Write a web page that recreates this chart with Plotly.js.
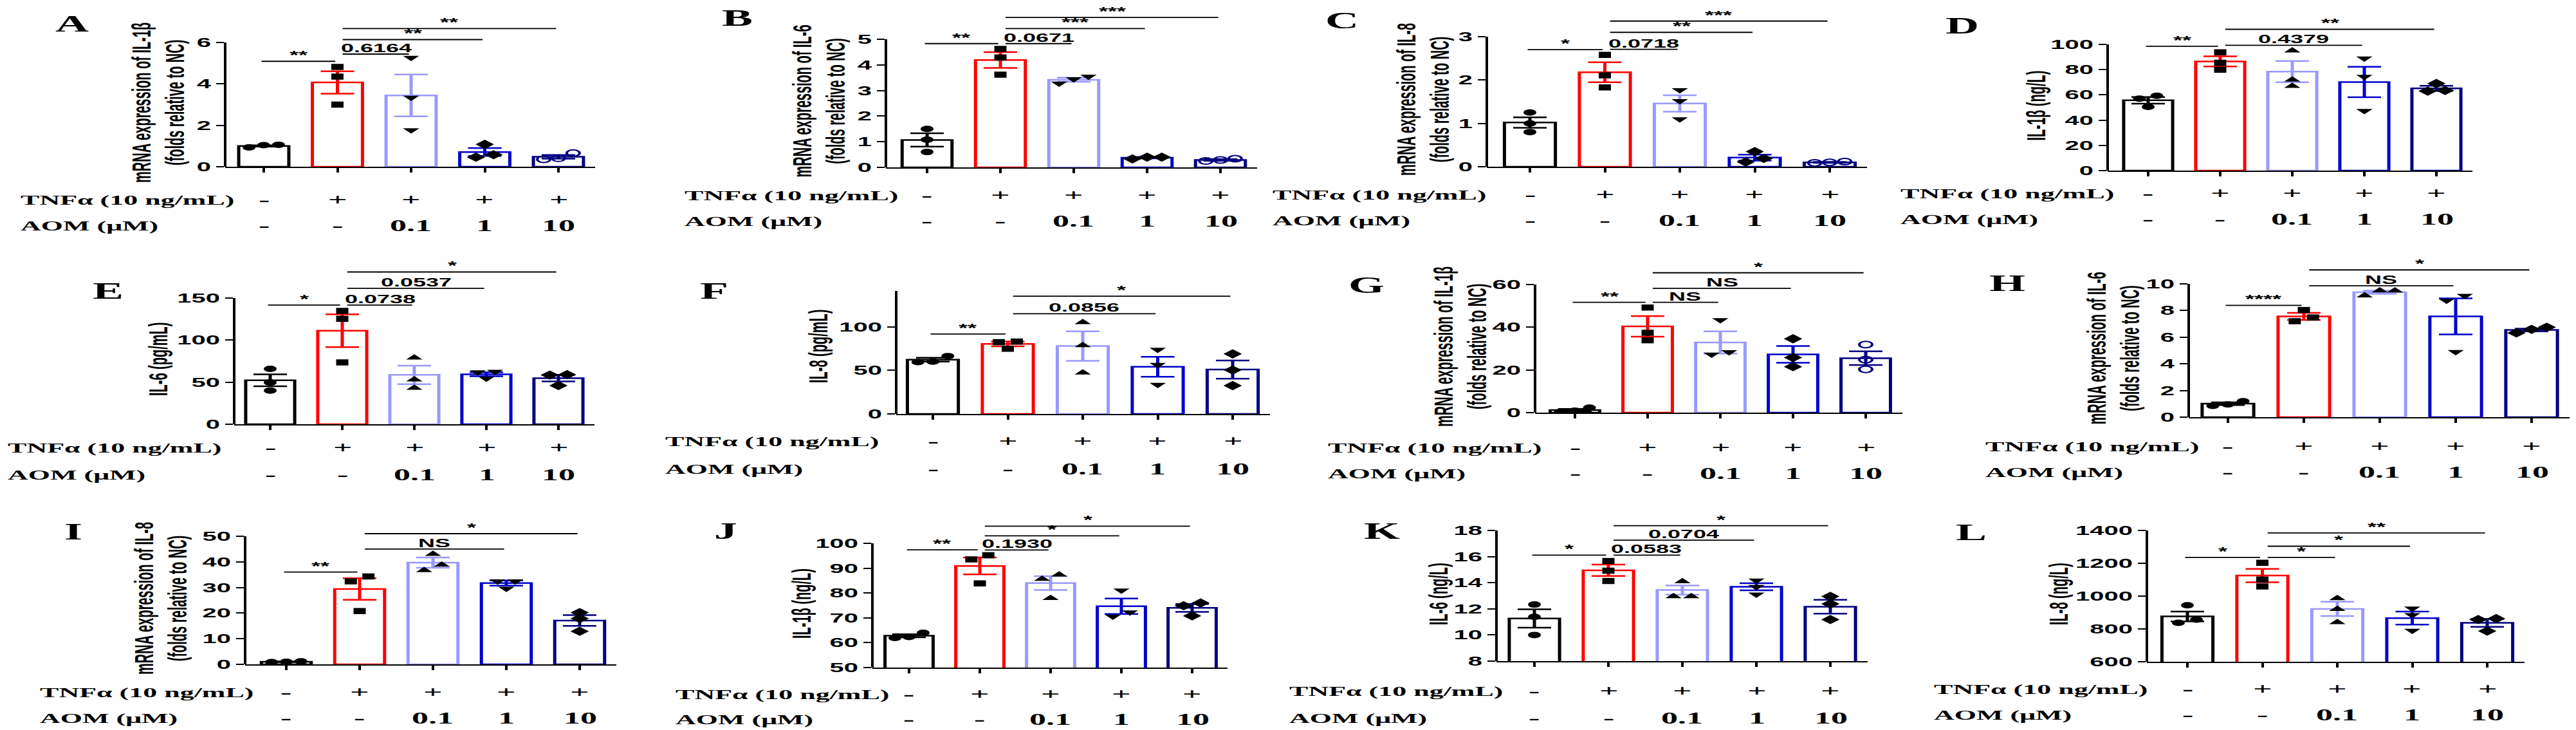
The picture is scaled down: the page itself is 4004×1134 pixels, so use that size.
<!DOCTYPE html>
<html>
<head>
<meta charset="utf-8">
<script src="https://cdn.plot.ly/plotly-3.0.1.min.js"></script>
<style>
html,body{margin:0;padding:0;background:#fff;overflow:hidden;width:4004px;height:1134px;}
#wrap{width:4004px;height:1134px;overflow:hidden;position:relative;}
#chart{width:2002px;height:1134px;transform:scaleX(2);transform-origin:0 0;position:absolute;left:0;top:0;}
</style>
</head>
<body>
<div id="wrap"><div id="chart"></div></div>
<script>
// ---------------- DATA ----------------
const groups = ["NC", "TNFα", "TNFα+AOM 0.1", "TNFα+AOM 1", "TNFα+AOM 10"];
const tnfLabels = ["-", "+", "+", "+", "+"];
const aomLabels = ["-", "-", "0.1", "1", "10"];

const A_mean = [1.00, 4.07, 3.44, 0.71, 0.48];
const A_sem  = [0.03, 0.54, 1.01, 0.19, 0.09];
const A_pts  = [[1.06,0.93,1.04],[4.82,4.35,3.00],[5.27,3.34,1.77],[1.08,0.58,0.46],[0.66,0.36,0.41]];
const A_sig  = [[0,1,5.09,"**"],[1,2,5.44,"0.6164"],[1,3,6.14,"**"],[1,4,6.67,"**"]];

const B_mean = [1.07, 4.19, 3.42, 0.38, 0.29];
const B_sem  = [0.26, 0.31, 0.08, 0.03, 0.03];
const B_pts  = [[1.50,1.08,0.60],[4.62,4.29,3.62],[3.55,3.28,3.45],[0.40,0.33,0.40],[0.34,0.25,0.29]];
const B_sig  = [[0,1,4.83,"**"],[1,2,4.83,"0.0671"],[1,3,5.42,"***"],[1,4,5.85,"***"]];

const C_mean = [1.02, 2.18, 1.46, 0.21, 0.10];
const C_sem  = [0.12, 0.23, 0.19, 0.07, 0.01];
const C_pts  = [[1.25,1.00,0.80],[2.58,2.11,1.83],[1.77,1.52,1.10],[0.35,0.19,0.11],[0.12,0.09,0.10]];
const C_sig  = [[0,1,2.70,"*"],[1,2,2.71,"0.0718"],[1,3,3.10,"**"],[1,4,3.36,"***"]];

const D_mean = [55.7, 86.5, 78.4, 70.2, 65.2];
const D_sem  = [2.6, 4.0, 8.4, 12.1, 2.0];
const D_pts  = [[59.3,57.0,50.5],[93.7,85.5,80.0],[95.0,72.0,67.0],[89.0,74.5,47.5],[69.0,63.0,63.5]];
const D_sig  = [[0,1,98.5,"**"],[1,3,99.3,"0.4379"],[1,4,112,"**"]];

const E_mean = [52.3, 111.2, 58.7, 59.4, 54.8];
const E_sem  = [7.1, 19.5, 11.0, 2.4, 4.0];
const E_pts  = [[65.8,49.5,40.0],[134.7,125.3,73.5],[79.0,53.0,43.0],[62.5,54.5,62.0],[59.0,58.5,46.0]];
const E_sig  = [[0,1,141.6,"*"],[1,2,141.6,"0.0738"],[1,3,161.5,"0.0537"],[1,4,181,"*"]];

const F_mean = [62.2, 80.4, 77.9, 54.1, 50.9];
const F_sem  = [2.2, 2.8, 16.9, 11.4, 10.4];
const F_pts  = [[66.4,60.0,59.5],[83.1,82.4,74.8],[105.2,78.7,47.2],[73.8,56.6,33.7],[68.9,50.4,32.5]];
const F_sig  = [[0,1,91.7,"**"],[1,3,115,"0.0856"],[1,4,135.2,"*"]];

const G_mean = [1.2, 40.4, 32.9, 27.3, 25.5];
const G_sem  = [0.5, 4.8, 5.2, 3.9, 3.2];
const G_pts  = [[2.3,0.9,0.4],[49.2,37.4,33.9],[43.4,28.4,27.3],[34.6,25.8,21.5],[31.9,24.8,20.3]];
const G_sig  = [[0,1,51.7,"**"],[1,2,51.7,"NS"],[1,3,58.2,"NS"],[1,4,65.5,"*"]];

const H_mean = [1.01, 7.56, 9.37, 7.56, 6.54];
const H_sem  = [0.10, 0.26, 0.12, 1.35, 0.10];
const H_pts  = [[1.20,0.95,0.85],[8.04,7.48,7.20],[9.49,9.12,9.49],[9.12,8.76,4.90],[6.75,6.32,6.59]];
const H_sig  = [[0,1,8.39,"****"],[1,3,9.86,"NS"],[1,4,11.05,"*"]];

const I_mean = [1.0, 29.4, 39.7, 31.7, 17.1];
const I_sem  = [0.1, 4.2, 2.0, 1.0, 2.1];
const I_pts  = [[1.2,0.9,1.0],[34.3,32.4,20.8],[43.0,38.8,36.7],[32.5,32.5,29.6],[20.2,17.9,12.9]];
const I_sig  = [[0,1,36.0,"**"],[1,3,45.0,"NS"],[1,4,51.0,"*"]];

const J_mean = [62.8, 90.9, 84.0, 74.7, 74.0];
const J_sem  = [0.6, 3.4, 2.8, 3.1, 1.6];
const J_pts  = [[64.0,61.9,62.3],[95.2,93.5,83.9],[87.4,85.6,77.9],[81.1,72.3,70.6],[76.0,74.9,70.8]];
const J_sig  = [[0,1,97.4,"**"],[1,2,97.3,"0.1930"],[1,3,103.0,"*"],[1,4,106.9,"*"]];

const K_mean = [11.26, 14.95, 13.44, 13.69, 12.16];
const K_sem  = [0.70, 0.44, 0.35, 0.27, 0.53];
const K_pts  = [[12.33,11.39,10.0],[15.66,14.92,14.13],[14.1,12.95,12.95],[14.18,13.69,13.11],[12.95,12.38,11.18]];
const K_sig  = [[0,1,16.11,"*"],[1,2,16.11,"0.0583"],[1,3,17.25,"0.0704"],[1,4,18.36,"*"]];

const L_mean = [876, 1125, 922, 866, 837];
const L_sem  = [30, 41, 44, 40, 24];
const L_pts  = [[944,857,837],[1203,1101,1059],[986,921,840],[925,885,790],[863,857,787]];
const L_sig  = [[0,1,1236,"*"],[1,2,1236,"*"],[1,3,1304,"*"],[1,4,1385,"**"]];

const TITLE_MRNA_1B = "mRNA expression of IL-1β<br>(folds relative to NC)";
const TITLE_MRNA_6  = "mRNA expression of IL-6<br>(folds relative to NC)";
const TITLE_MRNA_8  = "mRNA expression of IL-8<br>(folds relative to NC)";

// ---------------- STYLE / LAYOUT ----------------
const K = 2;                 // horizontal stretch of the reference figure
const FW = 4004, H = 1134;   // final picture size
const W = FW / K;
const COLORS = ['#000000', '#ff0000', '#9999ff', '#0000cc', '#000080'];
const SYM_1 = ['circle', 'square', 'triangle-down', 'diamond', 'circle-open'];
const SYM_2 = ['circle', 'square', 'triangle-up', 'triangle-down', 'diamond'];
const SYM_SIZE = {'circle': 10, 'square': 9.5, 'triangle-up': 11, 'triangle-down': 11, 'diamond': 11, 'circle-open': 10};
const SERIF = 'Liberation Serif, Times New Roman, serif';
const SANS = 'Liberation Sans, Arial, sans-serif';

const PANELS = [
 {key:'A', mean:A_mean, sem:A_sem, pts:A_pts, sig:A_sig, title:TITLE_MRNA_1B, sym:SYM_1, yMin:0, yMax:6, dtick:2,
  axL:350, cat0:410, sp:114.5, yZero:259, yTick:66, letter:[111,37], titleX:245, rowY:[310,350], labelX:27},
 {key:'B', mean:B_mean, sem:B_sem, pts:B_pts, sig:B_sig, title:TITLE_MRNA_6, sym:SYM_1, yMin:0, yMax:5, dtick:1,
  axL:1377, cat0:1441, sp:114, yZero:260, yTick:61, letter:[1145,28], titleX:1274, rowY:[303,343], labelX:1059},
 {key:'C', mean:C_mean, sem:C_sem, pts:C_pts, sig:C_sig, title:TITLE_MRNA_8, sym:SYM_1, yMin:0, yMax:3, dtick:1,
  axL:2311, cat0:2378, sp:116.5, yZero:259, yTick:57, letter:[2085,32], titleX:2212, rowY:[302,342], labelX:1974},
 {key:'D', mean:D_mean, sem:D_sem, pts:D_pts, sig:D_sig, title:"IL-1β (ng/L)", sym:SYM_2, yMin:0, yMax:100, dtick:20,
  axL:3276, cat0:3339, sp:112, yZero:265, yTick:69, letter:[3050,40], titleX:3165, rowY:[300,340], labelX:2950},
 {key:'E', mean:E_mean, sem:E_sem, pts:E_pts, sig:E_sig, title:"IL-6 (pg/mL)", sym:SYM_2, yMin:0, yMax:150, dtick:50,
  axL:364, cat0:420, sp:112, yZero:659, yTick:463, letter:[167,452], titleX:246, rowY:[695,737], labelX:8},
 {key:'F', mean:F_mean, sem:F_sem, pts:F_pts, sig:F_sig, title:"IL-8 (pg/mL)", sym:SYM_2, yMin:0, yMax:150, dtick:50,
  axL:1393, cat0:1450, sp:116.5, yZero:643, yTick:440, letter:[1109,452], titleX:1271, rowY:[685,728], labelX:1030},
 {key:'G', mean:G_mean, sem:G_sem, pts:G_pts, sig:G_sig, title:TITLE_MRNA_1B, sym:SYM_1, yMin:0, yMax:60, dtick:20,
  axL:2386, cat0:2448, sp:113, yZero:641, yTick:442, letter:[2124,443], titleX:2269, rowY:[695,735], labelX:2059},
 {key:'H', mean:H_mean, sem:H_sem, pts:H_pts, sig:H_sig, title:TITLE_MRNA_6, sym:SYM_2, yMin:0, yMax:10, dtick:2,
  axL:3402, cat0:3463, sp:118, yZero:648, yTick:441, letter:[3119,440], titleX:3286, rowY:[693,733], labelX:3081},
 {key:'I', mean:I_mean, sem:I_sem, pts:I_pts, sig:I_sig, title:TITLE_MRNA_8, sym:SYM_2, yMin:0, yMax:50, dtick:10,
  axL:381, cat0:445, sp:114, yZero:1032, yTick:833, letter:[114,826], titleX:249, rowY:[1075,1115], labelX:57},
 {key:'J', mean:J_mean, sem:J_sem, pts:J_pts, sig:J_sig, title:"IL-1β (ng/L)", sym:SYM_2, yMin:50, yMax:100, dtick:10,
  axL:1356, cat0:1413, sp:110, yZero:1037, yTick:844, letter:[1127,825], titleX:1245, rowY:[1078,1117], labelX:1045},
 {key:'K', mean:K_mean, sem:K_sem, pts:K_pts, sig:K_sig, title:"IL-6 (ng/L)", sym:SYM_2, yMin:8, yMax:18, dtick:2,
  axL:2326, cat0:2385, sp:115, yZero:1027, yTick:824, letter:[2147,825], titleX:2235, rowY:[1073,1115], labelX:2000},
 {key:'L', mean:L_mean, sem:L_sem, pts:L_pts, sig:L_sig, title:"IL-8 (ng/L)", sym:SYM_2, yMin:600, yMax:1400, dtick:200,
  axL:3337, cat0:3400, sp:116.5, yZero:1028, yTick:824, letter:[3064,827], titleX:3200, rowY:[1070,1110], labelX:3002}
];

// horizontal spreading of overlapping replicate points (like a scatter-dot plot)
function spread(vals, span) {
  const thr = 0.045 * span;
  const idx = vals.map((v, i) => i).sort((a, b) => vals[a] - vals[b]);
  const off = vals.map(() => 0);
  const clusters = [];
  let cur = [idx[0]];
  for (let k = 1; k < idx.length; k++) {
    if (vals[idx[k]] - vals[idx[k - 1]] < thr) cur.push(idx[k]);
    else { clusters.push(cur); cur = [idx[k]]; }
  }
  clusters.push(cur);
  clusters.forEach(c => {
    if (c.length === 2) { off[c[0]] = -0.12; off[c[1]] = 0.12; }
    else if (c.length >= 3) { off[c[0]] = -0.2; off[c[1]] = 0; off[c[2]] = 0.2; }
  });
  return off;
}

const traces = [];
const shapes = [];
const annotations = [];
const layout = {
  width: W, height: H,
  margin: {l: 0, r: 0, t: 0, b: 0, pad: 0},
  paper_bgcolor: '#ffffff', plot_bgcolor: 'rgba(0,0,0,0)',
  showlegend: false, barmode: 'overlay',
  font: {family: SANS, color: '#000000'}
};

PANELS.forEach((p, pi) => {
  const n = pi + 1;
  const xs = n === 1 ? 'x' : 'x' + n;
  const ys = n === 1 ? 'y' : 'y' + n;
  const xName = n === 1 ? 'xaxis' : 'xaxis' + n;
  const yName = n === 1 ? 'yaxis' : 'yaxis' + n;
  const span = p.yMax - p.yMin;
  const pxPerUnit = (p.yZero - p.yTick) / span;
  const maxSig = Math.max.apply(null, p.sig.map(s => s[2]));
  const rTop = maxSig + 0.04 * span;
  const topPx = p.yZero - (rTop - p.yMin) * pxPerUnit;
  const xRight = p.cat0 + 4.5 * p.sp;

  layout[xName] = {
    domain: [p.axL / FW, xRight / FW], anchor: ys,
    range: [(p.axL - p.cat0) / p.sp, 4.5],
    showline: true, linecolor: '#000', linewidth: 2,
    ticks: 'outside', ticklen: 7, tickwidth: 2, tickcolor: '#000',
    tickvals: [0, 1, 2, 3, 4], showticklabels: false,
    showgrid: false, zeroline: false, fixedrange: true
  };
  const tv = [];
  for (let v = p.yMin; v <= p.yMax + 1e-9; v += p.dtick) tv.push(v);
  layout[yName] = {
    domain: [1 - p.yZero / H, 1 - topPx / H], anchor: xs,
    range: [p.yMin, rTop],
    showline: false, ticks: 'outside', ticklen: 6, tickwidth: 2, tickcolor: '#000',
    tickvals: tv, ticktext: tv.map(String),
    tickfont: {family: SANS, size: 20, weight: 'bold', color: '#000'},
    showgrid: false, zeroline: false, fixedrange: true
  };
  // y axis line (only up to the last tick)
  shapes.push({type: 'line', xref: xs + ' domain', yref: ys, x0: 0, x1: 0, y0: p.yMin, y1: p.yMax,
               line: {color: '#000', width: 2}});

  // bars with SEM error bars
  p.mean.forEach((m, gi) => {
    traces.push({
      type: 'bar', x: [gi], y: [m], xaxis: xs, yaxis: ys, width: 0.68,
      marker: {color: '#ffffff', line: {color: COLORS[gi], width: 2.5}},
      error_y: {type: 'data', array: [p.sem[gi]], visible: true, color: COLORS[gi], thickness: 2.5, width: 13},
      hoverinfo: 'skip', name: groups[gi]
    });
  });
  // replicate points
  p.pts.forEach((vals, gi) => {
    const off = spread(vals, span);
    const sym = p.sym[gi];
    const open = sym.indexOf('open') >= 0;
    traces.push({
      type: 'scatter', mode: 'markers', xaxis: xs, yaxis: ys,
      x: vals.map((v, k) => gi + off[k]), y: vals,
      marker: {symbol: sym, size: SYM_SIZE[sym], color: open ? COLORS[4] : '#000000',
               line: {color: open ? COLORS[4] : '#000000', width: open ? 2 : 0}},
      hoverinfo: 'skip', name: groups[gi]
    });
  });
  // significance brackets
  p.sig.forEach(s => {
    const a = s[0], b = s[1];
    const x0 = a + (a === 1 ? 0.07 : -0.03);
    const x1 = b - 0.03;
    shapes.push({type: 'line', xref: xs, yref: ys, x0: x0, x1: x1, y0: s[2], y1: s[2],
                 line: {color: '#000', width: 1.8}});
    annotations.push({xref: xs, yref: ys, x: (x0 + x1) / 2, y: s[2], text: s[3], showarrow: false,
                      xanchor: 'center', yanchor: 'bottom', yshift: -3,
                      font: {family: SANS, size: 18, weight: 'bold', color: '#000'}});
  });
  // panel letter
  annotations.push({xref: 'paper', yref: 'paper', x: p.letter[0] / FW, y: 1 - p.letter[1] / H,
                    text: p.key, showarrow: false, xanchor: 'center', yanchor: 'middle',
                    font: {family: SERIF, size: 36, weight: 'bold', color: '#000'}});
  // y-axis title
  annotations.push({xref: 'paper', yref: 'paper', x: p.titleX / FW, y: 1 - ((p.yZero + p.yTick) / 2 - 3) / H,
                    text: p.title, textangle: -90, showarrow: false, xanchor: 'center', yanchor: 'middle',
                    font: {family: SANS, size: 20, weight: 'bold', color: '#000'}});
  // treatment rows
  annotations.push({xref: 'paper', yref: 'paper', x: p.labelX / FW, y: 1 - p.rowY[0] / H,
                    text: 'TNFα (10 ng/mL)', showarrow: false, xanchor: 'left', yanchor: 'middle',
                    font: {family: SERIF, size: 22, weight: 'bold', color: '#000'}});
  annotations.push({xref: 'paper', yref: 'paper', x: p.labelX / FW, y: 1 - p.rowY[1] / H,
                    text: 'AOM (μM)', showarrow: false, xanchor: 'left', yanchor: 'middle',
                    font: {family: SERIF, size: 22, weight: 'bold', color: '#000'}});
  for (let gi = 0; gi < 5; gi++) {
    annotations.push({xref: xs, yref: 'paper', x: gi, y: 1 - p.rowY[0] / H, text: tnfLabels[gi],
                      showarrow: false, xanchor: 'center', yanchor: 'middle',
                      font: {family: SERIF, size: 26, weight: 'bold', color: '#000'}});
    annotations.push({xref: xs, yref: 'paper', x: gi, y: 1 - p.rowY[1] / H, text: aomLabels[gi],
                      showarrow: false, xanchor: 'center', yanchor: 'middle',
                      font: {family: SERIF, size: 26, weight: 'bold', color: '#000'}});
  }
});

layout.shapes = shapes;
layout.annotations = annotations;

Plotly.newPlot('chart', traces, layout, {displayModeBar: false, staticPlot: true});
</script>
</body>
</html>
